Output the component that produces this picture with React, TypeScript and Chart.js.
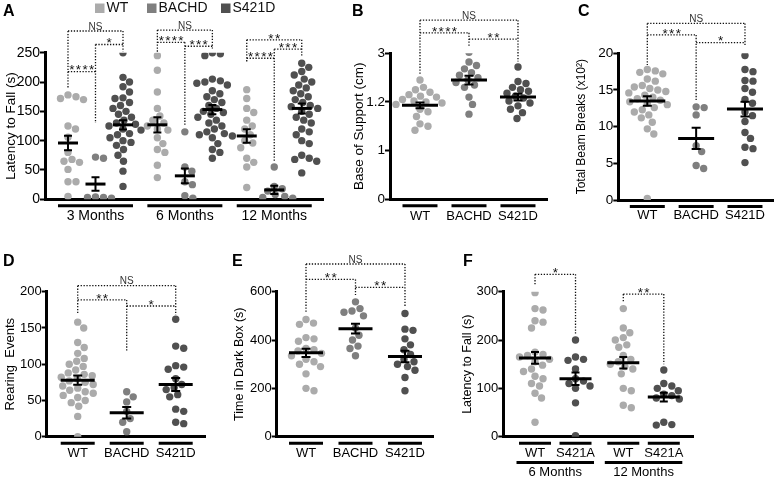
import React, { useEffect, useRef } from "react";
import { Chart, registerables } from "chart.js";

Chart.register(...registerables);

const FONT = "'Liberation Sans', Arial, Helvetica, sans-serif";
Chart.defaults.font.family = FONT;
Chart.defaults.color = "#000";

const C_WT = "#ababab";
const C_BACHD = "#7f7f7f";
const C_MUT = "#505050";

// ---------- shared labels ----------
const genotypes = ["WT", "BACHD", "S421D"];
const monthLabels = ["3 Months", "6 Months", "12 Months"];
const fLabels = ["WT", "S421A", "WT", "S421A"];
const fMonthLabels = ["6 Months", "12 Months"];

// ---------- Panel A: latency to fall (s) ----------
const aWT3 = [178, 175, 172, 170, 125, 120, 106, 80, 68, 65, 63, 51, 30, 30, 5];
const aBACHD3 = [72, 70, 4, 3, 3, 2];
const aS421D3 = [250, 208, 200, 192, 183, 173, 172, 165, 160, 155, 150, 145, 140, 135, 130, 128, 125, 120, 118, 112, 110, 105, 100, 97, 92, 85, 75, 65, 48, 22];
const aWT6 = [245, 220, 183, 155, 142, 135, 130, 125, 120, 118, 105, 95, 85, 80, 58, 37];
const aBACHD6 = [115, 55, 48, 30, 25, 6, 2];
const aS421D6 = [250, 248, 245, 205, 202, 200, 198, 195, 185, 180, 175, 170, 165, 160, 155, 150, 148, 145, 140, 135, 130, 125, 120, 115, 112, 110, 108, 105, 95, 85, 80, 70];
const aWT12 = [187, 172, 155, 148, 135, 125, 120, 110, 100, 96, 88, 70, 63, 55, 20];
const aBACHD12 = [55, 22, 18, 14, 8, 5, 3, 2];
const aS421D12 = [232, 225, 218, 212, 205, 200, 195, 190, 185, 180, 175, 170, 165, 160, 158, 155, 150, 145, 140, 135, 130, 120, 115, 110, 100, 95, 75, 70, 68, 65, 45];
const aMean = [96, 26, 127, 127, 40, 153, 108, 16, 155];
const aSem = [12.5, 11.5, 8, 13, 12.5, 8, 11.5, 7, 8.5];
const aBrackets: [number, number, number, string][] = [
  [0, 2, 287, "NS"], [1, 2, 264, "*"], [0, 1, 217.6, "****"],
  [3, 5, 288.6, "NS"], [3, 4, 267.7, "****"], [4, 5, 261, "***"],
  [6, 8, 272, "**"], [7, 8, 256, "***"], [6, 7, 240.5, "****"],
];
const aDrops = [188, 130, 252, 250, 127, 257, 234, 64, 243];

// ---------- Panel B: base of support (cm) ----------
const bWT = [2.45, 2.3, 2.25, 2.2, 2.15, 2.12, 2.1, 2.05, 2.02, 2.0, 1.98, 1.95, 1.85, 1.8, 1.7, 1.55, 1.5, 1.42];
const bBACHD = [3.02, 2.82, 2.75, 2.68, 2.6, 2.55, 2.5, 2.45, 2.4, 2.35, 2.3, 2.1, 1.95, 1.75];
const bS421D = [2.72, 2.42, 2.38, 2.3, 2.25, 2.22, 2.18, 2.12, 2.08, 2.02, 1.98, 1.92, 1.85, 1.78, 1.66];
const bMean = [1.93, 2.45, 2.1];
const bSem = [0.06, 0.09, 0.07];
const bTickLabels = ["0", "1", "1.2", "3"];
const bBrackets: [number, number, number, string][] = [[0, 2, 3.68, "NS"], [0, 1, 3.42, "****"], [1, 2, 3.29, "**"]];
const bDrops = [2.55, 3.15, 2.83];

// ---------- Panel C: total beam breaks (x10^2) ----------
const cWT = [17.8, 17.6, 17.4, 17.2, 16.5, 16.2, 15.6, 15.4, 15.2, 15.0, 14.8, 14.6, 14.3, 14.0, 13.8, 13.6, 13.4, 13.2, 13.0, 12.6, 12.3, 12.0, 11.6, 11.2, 10.6, 9.7, 9.0, 0.2];
const cBACHD = [12.7, 12.6, 11.6, 7.4, 6.6, 4.7, 4.3];
const cS421D = [19.7, 17.8, 17.5, 16.3, 16.2, 15.2, 14.7, 13.7, 13.2, 12.0, 11.5, 10.7, 9.2, 8.4, 7.2, 7.0, 5.1];
const cMean = [13.5, 8.4, 12.4];
const cSem = [0.65, 1.45, 1.0];
const cBrackets: [number, number, number, string][] = [[0, 2, 24.07, "NS"], [0, 1, 22.5, "***"], [1, 2, 21.45, "*"]];
const cDrops = [18.4, 13.6, 21];

// ---------- Panel D: rearing events ----------
const dWT = [158, 150, 130, 123, 115, 108, 104, 100, 97, 92, 88, 86, 84, 82, 80, 77, 75, 72, 70, 67, 64, 62, 60, 57, 54, 50, 47, 42, 28, 0];
const dBACHD = [62, 55, 48, 35, 25, 20, 7];
const dS421D = [162, 125, 122, 98, 96, 93, 80, 72, 68, 65, 58, 55, 38, 35, 20, 18];
const dMean = [78, 33, 72];
const dSem = [6.5, 8, 9];
const dBrackets: [number, number, number, string][] = [[0, 2, 208.3, "NS"], [0, 1, 188.6, "**"], [1, 2, 180.3, "*"]];
const dDrops = [169, 117, 168];

// ---------- Panel E: time in dark box (s) ----------
const eWT = [485, 470, 465, 410, 405, 395, 365, 360, 355, 345, 335, 320, 310, 300, 290, 260, 200, 190];
const eBACHD = [558, 530, 520, 515, 500, 450, 420, 400, 375, 365, 335];
const eS421D = [510, 445, 440, 405, 380, 360, 340, 320, 310, 300, 290, 275, 245, 190];
const eMean = [347, 447, 332];
const eSem = [17, 20, 24];
const eBrackets: [number, number, number, string][] = [[0, 2, 714.6, "NS"], [0, 1, 651, "**"], [1, 2, 618, "**"]];
const eDrops = [513, 586, 538];

// ---------- Panel F: latency to fall (s), S421A ----------
const fWT6 = [298, 265, 262, 240, 237, 225, 175, 170, 168, 165, 160, 155, 148, 140, 135, 125, 120, 110, 105, 90, 80, 30];
const fS421A6 = [200, 165, 160, 158, 140, 120, 115, 110, 105, 100, 70, 2];
const fWT12 = [265, 225, 215, 205, 200, 190, 185, 168, 160, 155, 150, 145, 140, 130, 100, 95, 65, 60];
const fS421A12 = [138, 110, 105, 100, 95, 88, 85, 80, 78, 30, 25, 24];
const fMean = [163, 120, 153, 82];
const fSem = [12, 13, 12, 9];
const fBrackets: [number, number, number, string][] = [[0, 1, 336, "*"], [2, 3, 295, "**"]];
const fDrops = [314, 210, 279, 150];

// ---------- layout helpers ----------
const MONTH_GAP = 3.25;
const PAIR_GAP = 2.18;
const aSlots = [0, 1, 2].flatMap((m) => [0, 1, 2].map((g) => m * MONTH_GAP + g));
const aTicks = [0, 1, 2].map((m) => m * MONTH_GAP + 1);
const fSlots = [0, 1].flatMap((p) => [0, 1].map((g) => p * PAIR_GAP + g));
const fTicks2 = [0, 1].map((p) => p * PAIR_GAP + 0.5);
const trio = [0, 1, 2];
const trioColors = [C_WT, C_BACHD, C_MUT];

const R = 3.7;

function makeOverlay(spec: any) {
  return {
    id: "overlay",
    afterDatasetsDraw(chart: any) {
      const { ctx } = chart;
      const xs = chart.scales.x;
      const ys = chart.scales.y;
      ctx.save();
      ctx.strokeStyle = "#000";
      ctx.lineCap = "butt";
      spec.means.forEach((m: number, i: number) => {
        const cx = xs.getPixelForValue(spec.slots[i]);
        const my = ys.getPixelForValue(m);
        const t = ys.getPixelForValue(m + spec.sems[i]);
        const b = ys.getPixelForValue(m - spec.sems[i]);
        ctx.lineWidth = 2;
        ctx.beginPath();
        ctx.moveTo(cx, t);
        ctx.lineTo(cx, b);
        ctx.moveTo(cx - spec.capHalf, t);
        ctx.lineTo(cx + spec.capHalf, t);
        ctx.moveTo(cx - spec.capHalf, b);
        ctx.lineTo(cx + spec.capHalf, b);
        ctx.stroke();
        ctx.lineWidth = 3;
        ctx.beginPath();
        ctx.moveTo(cx - spec.meanHalf, my);
        ctx.lineTo(cx + spec.meanHalf, my);
        ctx.stroke();
      });
      ctx.restore();
    },
    afterDraw(chart: any) {
      const { ctx, chartArea } = chart;
      const xs = chart.scales.x;
      const ys = chart.scales.y;
      const px = (i: number) => xs.getPixelForValue(spec.slots[i]);
      ctx.save();
      // group underlines
      ctx.strokeStyle = "#000";
      ctx.lineWidth = 3;
      ctx.lineCap = "butt";
      const ul = (list: [number, number][], ext: number, dy: number) => {
        list.forEach(([a, b]) => {
          ctx.beginPath();
          ctx.moveTo(px(a) - ext, chartArea.bottom + dy);
          ctx.lineTo(px(b) + ext, chartArea.bottom + dy);
          ctx.stroke();
        });
      };
      ul(spec.underlines, spec.ulExt, 6.5);
      if (spec.underlines2) ul(spec.underlines2, spec.ul2Ext, 25.8);

      // significance brackets
      ctx.setLineDash([1.3, 1.6]);
      ctx.lineWidth = 1.3;
      ctx.strokeStyle = "#111";
      const tops: number[] = spec.drops.map(() => -Infinity);
      spec.brackets.forEach(([a, b, lv]: any) => {
        tops[a] = Math.max(tops[a], lv);
        tops[b] = Math.max(tops[b], lv);
      });
      tops.forEach((tp, i) => {
        if (!isFinite(tp)) return;
        ctx.beginPath();
        ctx.moveTo(px(i), ys.getPixelForValue(tp));
        ctx.lineTo(px(i), ys.getPixelForValue(spec.drops[i]));
        ctx.stroke();
      });
      spec.brackets.forEach(([a, b, lv]: any) => {
        const y = ys.getPixelForValue(lv);
        ctx.beginPath();
        ctx.moveTo(px(a), y);
        ctx.lineTo(px(b), y);
        ctx.stroke();
      });
      ctx.setLineDash([]);
      ctx.textAlign = "center";
      ctx.textBaseline = "alphabetic";
      spec.brackets.forEach(([a, b, lv, label]: any) => {
        const y = ys.getPixelForValue(lv);
        const mid = (px(a) + px(b)) / 2;
        if (label === "NS") {
          ctx.fillStyle = "#333";
          ctx.font = `10px ${FONT}`;
          ctx.fillText(label, mid, y - 1.5);
        } else {
          ctx.fillStyle = "#111";
          ctx.font = `13.5px ${FONT}`;
          (ctx as any).letterSpacing = "1.3px";
          ctx.fillText(label, mid + 0.65, y + 2.8);
          (ctx as any).letterSpacing = "0px";
        }
      });

      // legend (panel A)
      if (spec.legend) {
        const lx = [95, 147, 221];
        ctx.font = `14px ${FONT}`;
        ctx.textAlign = "left";
        ctx.textBaseline = "middle";
        genotypes.forEach((g, i) => {
          ctx.fillStyle = trioColors[i];
          ctx.fillRect(lx[i], 3.5, 9.5, 9.5);
          ctx.fillStyle = "#111";
          ctx.fillText(g, lx[i] + 11.5, 8.5);
        });
      }
      ctx.restore();
    },
  };
}

function applySwarm(chart: any, spec: any) {
  const xs = chart.scales.x;
  const ys = chart.scales.y;
  const dmin = 2 * R + 0.6;
  spec.groups.forEach((vals: number[], gi: number) => {
    const cx = xs.getPixelForValue(spec.slots[gi]);
    const placed: { x: number; y: number }[] = [];
    const out: { x: number; y: number }[] = new Array(vals.length);
    const order = vals.map((_, i) => i).sort((p, q) => vals[q] - vals[p]);
    for (const i of order) {
      const py = ys.getPixelForValue(vals[i]);
      let pxv = cx;
      for (let k = 0; k < 400; k++) {
        const off = (k % 2 === 1 ? 1 : -1) * Math.ceil(k / 2) * 0.5;
        const cand = cx + off;
        let ok = true;
        for (const p of placed) {
          const dx = p.x - cand;
          const dy = p.y - py;
          if (dx * dx + dy * dy < dmin * dmin) {
            ok = false;
            break;
          }
        }
        if (ok) {
          pxv = cand;
          break;
        }
      }
      placed.push({ x: pxv, y: py });
      out[i] = { x: xs.getValueForPixel(pxv), y: vals[i] };
    }
    chart.data.datasets[gi].data = out;
  });
  chart.update("none");
}

const specs: any[] = [
  {
    key: "A", left: 0, top: 0, width: 340, height: 240, padTop: 52.7, padRight: 17, yWidth: 45, xHeight: 40.7,
    yMax: 250, yStep: 50, tickFont: 14, yTitle: "Latency to Fall (s)", titleFont: 13.5, titlePad: 2.9,
    xMin: -0.836, xMax: 9.273, slots: aSlots,
    groups: [aWT3, aBACHD3, aS421D3, aWT6, aBACHD6, aS421D6, aWT12, aBACHD12, aS421D12],
    names: monthLabels.flatMap((m) => genotypes.map((g) => `${g} ${m}`)),
    colors: [0, 1, 2].flatMap(() => trioColors),
    means: aMean, sems: aSem, xTicks: aTicks, xLabels: monthLabels, xFont: 14, xPad: 8.3,
    underlines: [[0, 2], [3, 5], [6, 8]], ulExt: 10, brackets: aBrackets, drops: aDrops,
    meanHalf: 10, capHalf: 4, legend: true,
  },
  {
    key: "B", left: 348, top: 0, width: 222, height: 240, padTop: 53.3, padRight: 23, yWidth: 42, xHeight: 40.7,
    yMax: 3, yStep: 1, yTickLabels: bTickLabels, tickFont: 13.5, yTitle: "Base of Support (cm)", titleFont: 13.5, titlePad: 2.9,
    xMin: -0.612, xMax: 2.592, slots: trio, groups: [bWT, bBACHD, bS421D], names: genotypes, colors: trioColors,
    means: bMean, sems: bSem, xTicks: trio, xLabels: genotypes, xFont: 13, xPad: 8.9,
    underlines: [[0, 0], [1, 1], [2, 2]], ulExt: 17.5, brackets: bBrackets, drops: bDrops, meanHalf: 18, capHalf: 4.5,
  },
  {
    key: "C", left: 571, top: 0, width: 206, height: 240, padTop: 53.3, padRight: 0, yWidth: 47.3, xHeight: 40,
    yMax: 20, yStep: 5, tickFont: 13.5, yTitle: "Total Beam Breaks (x10²)", titleFont: 12, titlePad: 3.8,
    xMin: -0.594, xMax: 2.58, slots: trio, groups: [cWT, cBACHD, cS421D], names: genotypes, colors: trioColors,
    means: cMean, sems: cSem, xTicks: trio, xLabels: genotypes, xFont: 13, xPad: 7.5,
    underlines: [[0, 0], [1, 1], [2, 2]], ulExt: 17.5, brackets: cBrackets, drops: cDrops, meanHalf: 18, capHalf: 4.5,
  },
  {
    key: "D", left: 0, top: 240, width: 226, height: 241, padTop: 51.7, padRight: 21, yWidth: 46.7, xHeight: 44.3,
    yMax: 200, yStep: 50, tickFont: 13, yTitle: "Rearing  Events", titleFont: 13, titlePad: 2.2,
    xMin: -0.633, xMax: 2.598, slots: trio, groups: [dWT, dBACHD, dS421D], names: genotypes, colors: trioColors,
    means: dMean, sems: dSem, xTicks: trio, xLabels: genotypes, xFont: 13, xPad: 8.5,
    underlines: [[0, 0], [1, 1], [2, 2]], ulExt: 17, brackets: dBrackets, drops: dDrops, meanHalf: 17, capHalf: 4.5,
  },
  {
    key: "E", left: 229, top: 240, width: 226, height: 241, padTop: 51.7, padRight: 22, yWidth: 47.7, xHeight: 44.3,
    yMax: 600, yStep: 200, tickFont: 13, yTitle: "Time in Dark Box (s)", titleFont: 12.5, titlePad: 3.5,
    xMin: -0.592, xMax: 2.566, slots: trio, groups: [eWT, eBACHD, eS421D], names: genotypes, colors: trioColors,
    means: eMean, sems: eSem, xTicks: trio, xLabels: genotypes, xFont: 13, xPad: 8.5,
    underlines: [[0, 0], [1, 1], [2, 2]], ulExt: 17, brackets: eBrackets, drops: eDrops, meanHalf: 17, capHalf: 4.5,
  },
  {
    key: "F", left: 457, top: 240, width: 320, height: 241, padTop: 51.7, padRight: 84, yWidth: 46.3, xHeight: 20, x2Height: 24.3,
    yMax: 300, yStep: 100, tickFont: 13, yTitle: "Latency to Fall (s)", titleFont: 12.5, titlePad: 3.5,
    xMin: -0.783, xMax: 3.901, slots: fSlots, groups: [fWT6, fS421A6, fWT12, fS421A12],
    names: ["WT 6 Months", "S421A 6 Months", "WT 12 Months", "S421A 12 Months"], colors: [C_WT, C_MUT, C_WT, C_MUT],
    means: fMean, sems: fSem, xTicks: fSlots, xLabels: fLabels, xFont: 13, xPad: 8.5,
    x2Ticks: fTicks2, x2Labels: fMonthLabels, x2Pad: 7.5,
    underlines: [[0, 0], [1, 1], [2, 2], [3, 3]], ulExt: 16, underlines2: [[0, 1], [2, 3]], ul2Ext: 18.5,
    brackets: fBrackets, drops: fDrops, meanHalf: 16, capHalf: 4,
  },
];

const panelLetters = [
  { t: "A", x: 3, y: 3 },
  { t: "B", x: 352, y: 3 },
  { t: "C", x: 578, y: 3 },
  { t: "D", x: 3, y: 253 },
  { t: "E", x: 232, y: 253 },
  { t: "F", x: 463, y: 253 },
];

function Panel({ spec }: { spec: any }) {
  const ref = useRef<HTMLCanvasElement | null>(null);
  useEffect(() => {
    if (!ref.current) return;
    const scales: any = {
      x: {
        type: "linear",
        position: "bottom",
        min: spec.xMin,
        max: spec.xMax,
        weight: 0,
        grid: { display: false, drawTicks: false },
        border: { display: true, color: "#000", width: 3 },
        ticks: {
          color: "#000",
          font: { size: spec.xFont },
          padding: spec.xPad,
          autoSkip: false,
          maxRotation: 0,
          callback: (_v: any, i: number) => spec.xLabels[i],
        },
        afterBuildTicks: (s: any) => {
          s.ticks = spec.xTicks.map((v: number) => ({ value: v }));
        },
        afterFit: (s: any) => {
          s.height = spec.xHeight;
        },
      },
      y: {
        type: "linear",
        min: 0,
        max: spec.yMax,
        grid: { display: true, drawOnChartArea: false, drawTicks: true, tickLength: 5, tickWidth: 2, tickColor: "#000", color: "#000" },
        border: { display: true, color: "#000", width: 3 },
        ticks: {
          stepSize: spec.yStep,
          color: "#000",
          font: { size: spec.tickFont },
          padding: 0,
          callback: (v: any, i: number) => (spec.yTickLabels ? spec.yTickLabels[i] : String(v)),
        },
        title: {
          display: true,
          text: spec.yTitle,
          color: "#000",
          font: { size: spec.titleFont },
          padding: { top: spec.titlePad, bottom: 0 },
        },
        afterFit: (s: any) => {
          s.width = spec.yWidth;
        },
      },
    };
    if (spec.x2Ticks) {
      scales.x2 = {
        type: "linear",
        position: "bottom",
        axis: "x",
        min: spec.xMin,
        max: spec.xMax,
        weight: 1,
        grid: { display: false, drawTicks: false },
        border: { display: false },
        ticks: {
          color: "#000",
          font: { size: spec.xFont },
          padding: spec.x2Pad,
          autoSkip: false,
          maxRotation: 0,
          callback: (_v: any, i: number) => spec.x2Labels[i],
        },
        afterBuildTicks: (s: any) => {
          s.ticks = spec.x2Ticks.map((v: number) => ({ value: v }));
        },
        afterFit: (s: any) => {
          s.height = spec.x2Height;
        },
      };
    }
    const chart = new Chart(ref.current, {
      type: "scatter",
      data: {
        datasets: spec.groups.map((vals: number[], gi: number) => ({
          label: spec.names[gi],
          data: vals.map((v) => ({ x: spec.slots[gi], y: v })),
          backgroundColor: spec.colors[gi],
          borderWidth: 0,
          pointRadius: R,
          pointHoverRadius: R,
          xAxisID: "x",
          yAxisID: "y",
        })),
      },
      options: {
        responsive: false,
        animation: false,
        devicePixelRatio: 1,
        events: [],
        layout: { padding: { top: spec.padTop, right: spec.padRight, left: 0, bottom: 0 } },
        plugins: { legend: { display: false }, tooltip: { enabled: false }, title: { display: false } },
        scales,
      } as any,
      plugins: [makeOverlay(spec)],
    });
    applySwarm(chart, spec);
    return () => chart.destroy();
  }, [spec]);
  return (
    <div style={{ position: "absolute", left: spec.left, top: spec.top, width: spec.width, height: spec.height }}>
      <canvas ref={ref} width={spec.width} height={spec.height} style={{ display: "block", width: spec.width, height: spec.height }} />
    </div>
  );
}

export default function App() {
  return (
    <div style={{ position: "absolute", left: 0, top: 0, width: 777, height: 481, background: "#fff", overflow: "hidden" }}>
      {specs.map((s) => (
        <Panel key={s.key} spec={s} />
      ))}
      {panelLetters.map((p) => (
        <div
          key={p.t}
          style={{ position: "absolute", left: p.x, top: p.y, font: `bold 16px ${FONT}`, lineHeight: "16px", color: "#000" }}
        >
          {p.t}
        </div>
      ))}
    </div>
  );
}
